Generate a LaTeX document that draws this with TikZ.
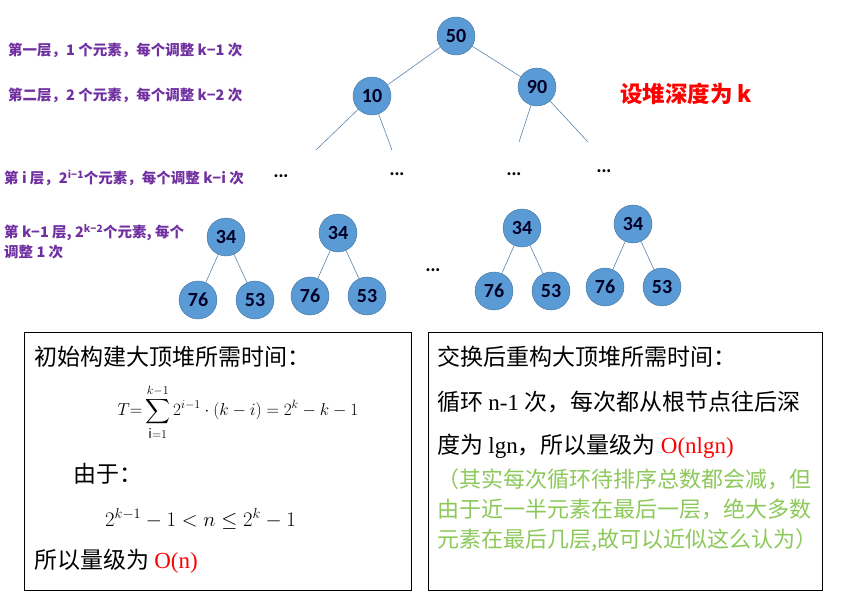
\documentclass[tikz,border=0pt]{standalone}
\usepackage{fontspec}
\usepackage{amsmath}
\setmainfont{Noto Sans CJK SC}
\newfontfamily\tms{Liberation Serif}
\newfontfamily\numfont[BoldFont={Carlito Bold}]{Carlito}
\usetikzlibrary{positioning}
\definecolor{heapblue}{HTML}{5B9BD5}
\definecolor{heapedge}{HTML}{41719C}
\definecolor{levelpurple}{HTML}{7030A0}
\definecolor{notegreen}{HTML}{8CC85A}
\definecolor{hotred}{HTML}{FF0000}

\begin{document}
\begin{tikzpicture}[x=1pt,y=-1pt]
\tikzset{heapnode/.style={circle,draw=heapedge,fill=heapblue,minimum size=38pt,inner sep=0pt,font=\numfont\fontsize{20}{20}\selectfont\bfseries,text=black!85!blue},
  link/.style={draw=heapedge!85,line width=0.6pt},
  lvl/.style={anchor=west,text=levelpurple,font=\bfseries\fontsize{14.5}{20}\selectfont,align=left,inner sep=0pt},
  dots/.style={font=\bfseries\fontsize{14}{14}\selectfont,inner sep=0pt},
  txtbox/.style={draw=black,line width=0.6pt},
  line/.style={anchor=west,inner sep=0pt,font=\fontsize{23}{26}\selectfont}}
\useasboundingbox (0,0) rectangle (841,599);
% top of the heap
\node[heapnode] (root) at (456,36) {50};
\node[heapnode] (left) at (372,96) {10};
\node[heapnode] (right) at (537,87) {90};
\draw[link] (root) -- (left);
\draw[link] (root) -- (right);
\coordinate (ll) at (316,150);
\coordinate (lr) at (392,150);
\coordinate (rl) at (519,142);
\coordinate (rr) at (588,142);
\draw[link] (left) -- (ll);
\draw[link] (left) -- (lr);
\draw[link] (right) -- (rl);
\draw[link] (right) -- (rr);
\node[dots] (d1) at (281,176) {...};
\node[dots] (d2) at (397,174) {...};
\node[dots] (d3) at (514,174) {...};
\node[dots] (d4) at (604,171) {...};
\node[dots] (d5) at (433,270) {...};
% last two levels
\foreach \n/\x/\y in {ta/226/237,tb/338/233,tc/522/228,td/633/224}{
  \node[heapnode] (\n) at (\x,\y) {34};
  \node[heapnode] (\n l) at (\x-28,\y+63) {76};
  \node[heapnode] (\n r) at (\x+29,\y+63) {53};
  \draw[link] (\n) -- (\n l);
  \draw[link] (\n) -- (\n r);
}
% level notes
\node[lvl] (lv1) at (8,50) {第一层，1 个元素，每个调整 k−1 次};
\node[lvl] (lv2) at (8,95) {第二层，2 个元素，每个调整 k−2 次};
\node[lvl] (lvi) at (4,178) {第 i 层，2\textsuperscript{i−1}个元素，每个调整 k−i 次};
\node[lvl] (lvk) at (4,242) {第 k−1 层, 2\textsuperscript{k−2}个元素, 每个\\调整 1 次};
\node[anchor=west,inner sep=0pt,text=hotred,font=\bfseries\fontsize{22.5}{22.5}\selectfont] (depth) at (620,94) {设堆深度为 k};
% time boxes
\node[txtbox,minimum width=387pt,minimum height=258pt,anchor=north west] (build) at (24,332) {};
\node[txtbox,minimum width=394pt,minimum height=258pt,anchor=north west] (rebuild) at (428,332) {};
\node[line] (b1) at (34,357) {初始构建大顶堆所需时间：};
\node[inner sep=0pt,font=\fontsize{18.5}{22}\selectfont] (b2) at (238,412)
  {$\displaystyle T{=}\sum_{\mathrm{i}=1}^{k-1} 2^{i-1}\cdot(k-i)=2^{k}-k-1$};
\node[line] (b3) at (73,474) {由于：};
\node[inner sep=0pt,font=\fontsize{21}{24}\selectfont,anchor=west] (b4) at (105,519) {$2^{k-1}-1<n\le 2^{k}-1$};
\node[line] (b5) at (34,561) {所以量级为 {\tms\textcolor{hotred}{O(n)}}};
\node[line] (r1) at (437,357) {交换后重构大顶堆所需时间：};
\node[line] (r2) at (437,402) {循环 {\tms n-1} 次，每次都从根节点往后深};
\node[line] (r3) at (437,446) {度为 {\tms lgn}，所以量级为 {\tms\textcolor{hotred}{O(nlgn)}}};
\node[line,text=notegreen,align=left,font=\fontsize{22}{30}\selectfont,anchor=north west] (r4) at (437,468)
  {（其实每次循环待排序总数都会减，但\\由于近一半元素在最后一层，绝大多数\\元素在最后几层,故可以近似这么认为）};
\end{tikzpicture}
\end{document}
